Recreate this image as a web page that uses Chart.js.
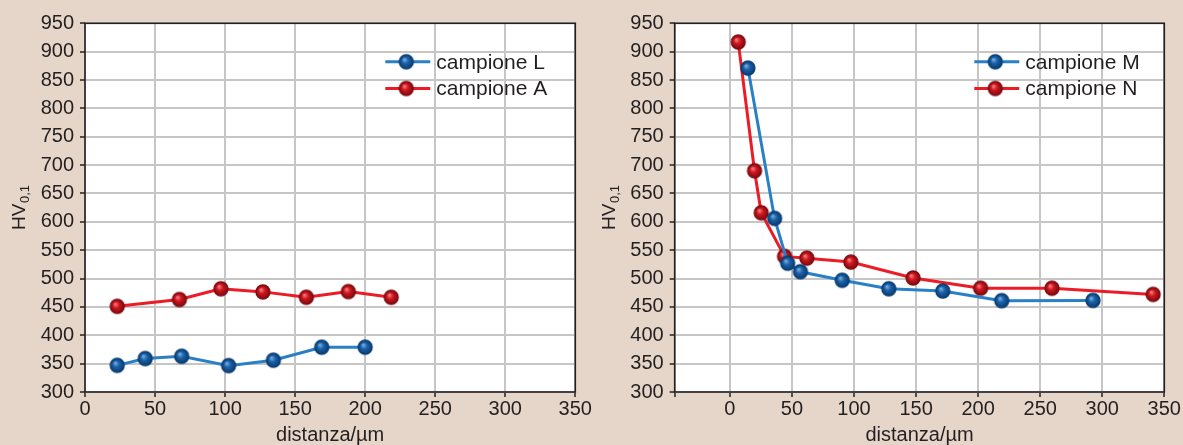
<!DOCTYPE html>
<html>
<head>
<meta charset="utf-8">
<script src="https://cdn.jsdelivr.net/npm/chart.js@4.4.1/dist/chart.umd.min.js"></script>
<style>
  html, body { margin:0; padding:0; background:#e6d6c9; }
  #wrap { position:relative; width:1183px; height:445px; overflow:hidden; }
  #left  { position:absolute; left:0;     top:0; }
  #right { position:absolute; left:590px; top:0; }
</style>
</head>
<body>
<div id="wrap">
  <canvas id="left"  width="600" height="445"></canvas>
  <canvas id="right" width="593" height="445"></canvas>
</div>
<script>

// values (distanza / µm , HV0,1)
const distL = [23, 43, 69, 102.5, 134.5, 169, 200]
const hvL   = [347, 359, 363, 346.5, 356, 379, 379]

const distA = [23, 67.4, 97, 127, 158, 188, 218.6]
const hvA   = [451, 463, 482, 476.5, 467, 477, 467]

const distM = [14.5, 36, 46.5, 56.8, 90.5, 128, 171.5, 219, 292.5]
const hvM   = [871, 606, 527, 512, 497, 482, 478, 461, 461.5]

const distN = [6.7, 19.8, 25.2, 44, 62, 97.5, 147.6, 202, 259.5, 341]
const hvN   = [917, 690, 616, 539, 536, 529, 501, 483, 483, 472]

const yTicks      = [300, 350, 400, 450, 500, 550, 600, 650, 700, 750, 800, 850, 900, 950]
const xTicksLeft  = [0, 50, 100, 150, 200, 250, 300, 350]
const xTicksRight = [0, 50, 100, 150, 200, 250, 300, 350]
const xMinRight   = -44.5   // right panel starts a bit before 0


const FONT   = '"Liberation Sans", Arial, Helvetica, sans-serif'
const INK    = '#231f20'
const GRID   = '#c6c6c6'
const BLUE   = '#2a80c6'
const RED    = '#ec1c26'


function makeBall(base, dark, light){
      const s = 18, r = 7
      const c = document.createElement('canvas')
      c.width = s; c.height = s
      const g = c.getContext('2d')
      const grad = g.createRadialGradient(s/2 - 2, s/2 - 2.4, 0.4, s/2, s/2, r)
      grad.addColorStop(0, light)
      grad.addColorStop(0.42, base)
      grad.addColorStop(1, dark)
      g.fillStyle = grad
      g.beginPath(); g.arc(s/2, s/2, r, 0, Math.PI*2); g.fill()
      g.strokeStyle = dark; g.lineWidth = 1.3; g.stroke()
      return c
}

const blueBall = makeBall('#1a62aa', '#0a3b70', '#79aee0')
const redBall  = makeBall('#d0161f', '#7c0a0f', '#f58080')


// white plot area + dark frame
const framePlugin = {
      id: 'frame',
      beforeDraw(chart){
            const a = chart.chartArea, ctx = chart.ctx
            ctx.save()
            ctx.fillStyle = '#ffffff'
            ctx.fillRect(a.left, a.top, a.right - a.left, a.bottom - a.top)
            ctx.restore()
      },
      beforeDatasetsDraw(chart){
            const a = chart.chartArea, ctx = chart.ctx
            ctx.save()
            ctx.strokeStyle = INK
            ctx.lineWidth = 1.6
            ctx.strokeRect(a.left, a.top, a.right - a.left, a.bottom - a.top)
            ctx.restore()
      }
}

// legend with line + ball, inside the plot, top right
const legendPlugin = {
      id: 'lineLegend',
      afterDraw(chart){
            const a = chart.chartArea, ctx = chart.ctx
            const x0 = a.right - 190
            ctx.save()
            chart.data.datasets.forEach((ds, i) => {
                  const y = a.top + 38.5 + i * 26.7
                  ctx.strokeStyle = ds.borderColor
                  ctx.lineWidth = 3
                  ctx.beginPath(); ctx.moveTo(x0, y); ctx.lineTo(x0 + 45, y); ctx.stroke()
                  ctx.drawImage(ds.pointStyle, x0 + 21 - 9, y - 9)
                  ctx.fillStyle = INK
                  ctx.font = '21px ' + FONT
                  ctx.textBaseline = 'middle'
                  ctx.textAlign = 'left'
                  ctx.fillText(ds.label, x0 + 51, y + 1)
            })
            ctx.restore()
      }
}

// y title HV with subscript 0,1
const hvTitlePlugin = {
      id: 'hvTitle',
      afterDraw(chart){
            const a = chart.chartArea, ctx = chart.ctx
            ctx.save()
            ctx.translate(24.5, (a.top + a.bottom) / 2)
            ctx.rotate(-Math.PI / 2)
            ctx.fillStyle = INK
            ctx.textBaseline = 'alphabetic'
            ctx.font = '19px ' + FONT
            const wMain = ctx.measureText('HV').width
            ctx.font = '13px ' + FONT
            const wSub = ctx.measureText('0,1').width
            const start = -(wMain + wSub) / 2
            ctx.font = '19px ' + FONT
            ctx.fillText('HV', start, 0)
            ctx.font = '13px ' + FONT
            ctx.fillText('0,1', start + wMain + 0.5, 4.5)
            ctx.restore()
      }
}


function toPoints(xs, ys){
      return xs.map((v, i) => ({ x: v, y: ys[i] }))
}


function createPanel(canvas, series, xMin, xTicks, axisWidth, padRight){

      const datasets = series.map(s => ({
            label: s.label,
            data: toPoints(s.x, s.y),
            borderColor: s.color,
            borderWidth: 3,
            pointStyle: s.ball,
            pointRadius: 7,
            pointHoverRadius: 7,
            tension: 0,
            fill: false,
      }))

      const setup = {
            type: 'line',
            data: { datasets: datasets },
            options: {
                  responsive: false,
                  animation: false,
                  events: [],
                  layout: { padding: { top: 23.3, right: padRight, bottom: 0, left: 0 } },
                  plugins: {
                        legend:  { display: false },
                        tooltip: { enabled: false },
                  },
                  scales: {
                        x: {
                              type: 'linear',
                              min: xMin,
                              max: 350,
                              afterBuildTicks: sc => {
                                    const list = xMin < xTicks[0] ? [xMin].concat(xTicks) : xTicks
                                    sc.ticks = list.map(v => ({ value: v }))
                              },
                              afterFit: sc => { sc.height = 53; sc.paddingLeft = 0; sc.paddingRight = 0 },
                              ticks: {
                                    callback: v => xTicks.includes(v) ? String(v) : '',
                                    font: { family: FONT, size: 20, lineHeight: 1.2 },
                                    color: INK,
                                    padding: 0,
                                    maxRotation: 0,
                                    autoSkip: false,
                              },
                              grid: { color: GRID, lineWidth: 2, tickLength: 5, tickColor: INK, tickWidth: 1.5 },
                              border: { display: false },
                              title: {
                                    display: true,
                                    text: 'distanza/µm',
                                    color: INK,
                                    font: { family: FONT, size: 20, lineHeight: 1 },
                                    padding: 0,
                              },
                        },
                        y: {
                              type: 'linear',
                              min: 300,
                              max: 950,
                              afterBuildTicks: sc => { sc.ticks = yTicks.map(v => ({ value: v })) },
                              afterFit: sc => { sc.width = axisWidth; sc.paddingTop = 0; sc.paddingBottom = 0 },
                              ticks: {
                                    font: { family: FONT, size: 20 },
                                    color: INK,
                                    padding: 6,
                                    autoSkip: false,
                              },
                              grid: { color: GRID, lineWidth: 2, tickLength: 5, tickColor: INK, tickWidth: 1.5 },
                              border: { display: false },
                        },
                  },
            },
            plugins: [framePlugin, legendPlugin, hvTitlePlugin],
      }

      return new Chart(canvas, setup)
}


createPanel(document.getElementById('left'), [
      { label: 'campione L', x: distL, y: hvL, color: BLUE, ball: blueBall },
      { label: 'campione A', x: distA, y: hvA, color: RED,  ball: redBall  },
], 0, xTicksLeft, 85, 24.7)

createPanel(document.getElementById('right'), [
      { label: 'campione M', x: distM, y: hvM, color: BLUE, ball: blueBall },
      { label: 'campione N', x: distN, y: hvN, color: RED,  ball: redBall  },
], xMinRight, xTicksRight, 84.7, 18.7)

</script>
</body>
</html>
